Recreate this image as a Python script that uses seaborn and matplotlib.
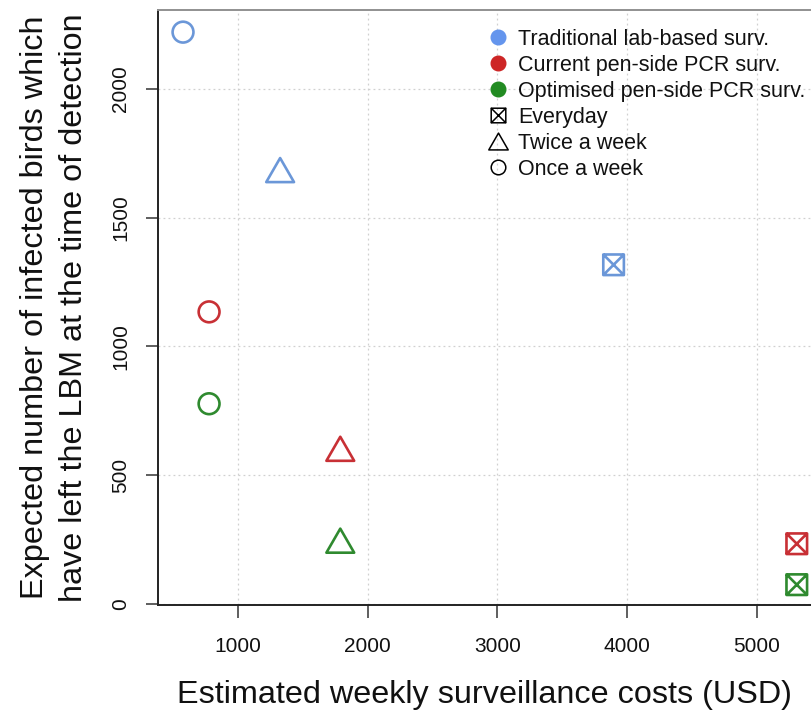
import matplotlib
matplotlib.use("Agg")
import matplotlib.pyplot as plt
import seaborn as sns
import pandas as pd
import numpy as np
from matplotlib.path import Path
from matplotlib.lines import Line2D

# ---- data ----
strategies = ["Traditional lab-based surv.", "Current pen-side PCR surv.", "Optimised pen-side PCR surv."]
frequencies = ["Everyday", "Twice a week", "Once a week"]
cost_trad = [3896, 1324, 575]
birds_trad = [1317, 1685, 2221]
cost_curr = [5309, 1788, 776]
birds_curr = [233, 602, 1134]
cost_opt = [5309, 1788, 776]
birds_opt = [74, 245, 777]
x_ticks = [1000, 2000, 3000, 4000, 5000]
y_ticks = [0, 500, 1000, 1500, 2000]

rows = []
for strat, cs, bs in zip(strategies, [cost_trad, cost_curr, cost_opt], [birds_trad, birds_curr, birds_opt]):
    for f, c, b in zip(frequencies, cs, bs):
        rows.append({"strategy": strat, "frequency": f, "cost": c, "birds": b})
df = pd.DataFrame(rows)

# ---- styles ----
colors = {"Traditional lab-based surv.": "#6b97d8",
          "Current pen-side PCR surv.": "#c83035",
          "Optimised pen-side PCR surv.": "#2f8a2f"}
legend_colors = {"Traditional lab-based surv.": "#6495ED",
                 "Current pen-side PCR surv.": "#CD2626",
                 "Optimised pen-side PCR surv.": "#228B22"}
box_x = Path([(-1, -1), (1, -1), (1, 1), (-1, 1), (-1, -1), (1, 1), (-1, 1), (1, -1)],
             [Path.MOVETO, Path.LINETO, Path.LINETO, Path.LINETO, Path.CLOSEPOLY,
              Path.LINETO, Path.MOVETO, Path.LINETO])
tri = Path([(-1, -0.866), (1, -0.866), (0, 0.866), (-1, -0.866)],
           [Path.MOVETO, Path.LINETO, Path.LINETO, Path.CLOSEPOLY])
markers = {"Everyday": box_x, "Twice a week": tri, "Once a week": "o"}
sizes = {"Everyday": 220, "Twice a week": 400, "Once a week": 225}

sns.set_style("white")
plt.rcParams["font.family"] = ["Liberation Sans", "DejaVu Sans"]

fig = plt.figure(figsize=(8.11, 7.13), dpi=100)
ax = fig.add_axes([158 / 811, 1 - 605 / 713, 1 - 158 / 811 + 0.001, (605 - 10) / 713])

for (strat, freq), sub in df.groupby(["strategy", "frequency"], sort=False):
    sns.scatterplot(data=sub, x="cost", y="birds", ax=ax, marker=markers[freq],
                    s=sizes[freq], facecolor="none", edgecolor=colors[strat],
                    linewidth=1.9, zorder=3, legend=False)

ax.set_xlim(382, 5425)
ax.set_ylim(-5, 2307)
ax.set_xticks(x_ticks)
ax.set_yticks(y_ticks)
ax.set_xticklabels([str(t) for t in x_ticks], fontsize=15, color="#111111")
ax.set_yticklabels([str(t) for t in y_ticks], fontsize=15, rotation=90, va="center", color="#111111")
ax.grid(True, color="#d0d0d0", linestyle=(0, (1.5, 2.5)), linewidth=0.9)
ax.set_axisbelow(True)

for side in ["left", "bottom"]:
    ax.spines[side].set_color("#222222")
    ax.spines[side].set_linewidth(1.4)
ax.spines["top"].set_color("#909090")
ax.spines["top"].set_linewidth(1.4)
ax.spines["right"].set_visible(False)
ax.tick_params(axis="both", which="major", bottom=True, left=True, direction="out",
               length=9, width=1.1, color="#333333")
ax.tick_params(axis="x", pad=14)
ax.tick_params(axis="y", pad=11)

ax.set_xlabel("Estimated weekly surveillance costs (USD)", fontsize=23.3, labelpad=17, color="#111111")
ax.set_ylabel("Expected number of infected birds which\nhave left the LBM at the time of detection",
              fontsize=23.3, labelpad=16, linespacing=1.4, color="#111111")

handles = []
for strat in strategies:
    handles.append(Line2D([], [], linestyle="none", marker="o", markersize=10.5,
                          markerfacecolor=legend_colors[strat], markeredgecolor=legend_colors[strat],
                          label=strat))
leg_sizes = {"Everyday": 10.5, "Twice a week": 14, "Once a week": 10.5}
for f in frequencies:
    handles.append(Line2D([], [], linestyle="none", marker=markers[f], markersize=leg_sizes[f],
                          markerfacecolor="none", markeredgecolor="black", markeredgewidth=1.1,
                          label=f))
leg = ax.legend(handles=handles, loc="upper left", bbox_to_anchor=(0.484, 0.99), frameon=False,
                fontsize=15.5, handletextpad=0.42, labelspacing=0.23, borderaxespad=0.2,
                handlelength=1.0)
for t in leg.get_texts():
    t.set_color("#111111")

fig.savefig("out.png", dpi=100)
